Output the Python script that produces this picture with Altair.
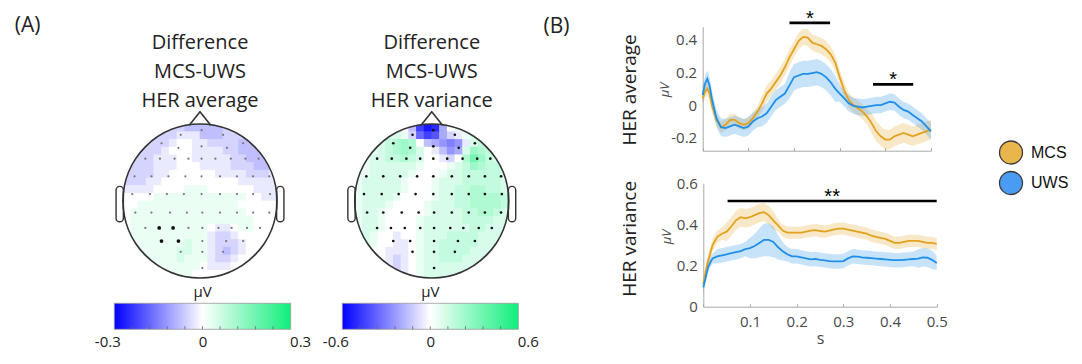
import altair as alt
import pandas as pd

# ======================= DATA =======================
time_s = [0.0, 0.005, 0.01, 0.015, 0.02, 0.03, 0.04, 0.05, 0.06, 0.07, 0.08, 0.09,
          0.10, 0.11, 0.12, 0.13, 0.14, 0.15, 0.16, 0.17, 0.18, 0.19, 0.20, 0.21,
          0.22, 0.23, 0.24, 0.25, 0.26, 0.27, 0.28, 0.29, 0.30, 0.31, 0.32, 0.33,
          0.34, 0.35, 0.36, 0.37, 0.38, 0.39, 0.40, 0.41, 0.42, 0.43, 0.44, 0.45,
          0.46, 0.47, 0.48, 0.49, 0.50]

avg_mcs = [0.04, 0.08, 0.10, 0.07, 0.00, -0.09, -0.135, -0.12, -0.09, -0.09, -0.11, -0.12,
           -0.11, -0.08, -0.04, 0.01, 0.07, 0.10, 0.14, 0.18, 0.23, 0.29, 0.34, 0.39,
           0.415, 0.41, 0.38, 0.37, 0.36, 0.34, 0.31, 0.26, 0.17, 0.09, 0.03, 0.00,
           -0.02, -0.04, -0.07, -0.11, -0.16, -0.19, -0.21, -0.21, -0.19, -0.18, -0.17, -0.18,
           -0.19, -0.18, -0.17, -0.16, -0.15]
avg_mcs_se = [0.04, 0.04, 0.04, 0.04, 0.04, 0.035, 0.035, 0.035, 0.035, 0.035, 0.035, 0.035,
              0.035, 0.035, 0.035, 0.05, 0.05, 0.05, 0.05, 0.05, 0.05, 0.05, 0.05, 0.05,
              0.05, 0.05, 0.05, 0.05, 0.05, 0.05, 0.05, 0.05, 0.05, 0.045, 0.045, 0.045,
              0.045, 0.045, 0.045, 0.06, 0.06, 0.06, 0.06, 0.06, 0.06, 0.06, 0.06, 0.06,
              0.06, 0.06, 0.06, 0.06, 0.06]
avg_uws = [0.06, 0.13, 0.16, 0.12, 0.04, -0.08, -0.135, -0.14, -0.13, -0.12, -0.13, -0.14,
           -0.13, -0.10, -0.08, -0.07, -0.05, -0.01, 0.03, 0.05, 0.07, 0.12, 0.17, 0.18,
           0.19, 0.19, 0.195, 0.20, 0.19, 0.17, 0.14, 0.10, 0.07, 0.04, 0.01, -0.005,
           -0.01, -0.015, -0.01, -0.005, 0.0, 0.0, 0.01, 0.02, 0.015, -0.01, -0.03, -0.04,
           -0.06, -0.08, -0.10, -0.13, -0.16]
avg_uws_se = [0.05, 0.05, 0.05, 0.05, 0.05, 0.055, 0.055, 0.055, 0.055, 0.055, 0.055, 0.055,
              0.055, 0.055, 0.055, 0.06, 0.06, 0.06, 0.06, 0.06, 0.06, 0.08, 0.08, 0.08,
              0.08, 0.08, 0.08, 0.08, 0.08, 0.08, 0.08, 0.08, 0.05, 0.05, 0.05, 0.05,
              0.05, 0.05, 0.05, 0.05, 0.05, 0.05, 0.05, 0.05, 0.05, 0.05, 0.05, 0.05,
              0.05, 0.05, 0.05, 0.05, 0.05]

var_mcs = [0.11, 0.17, 0.22, 0.26, 0.30, 0.34, 0.355, 0.365, 0.39, 0.42, 0.435, 0.43,
           0.435, 0.445, 0.455, 0.46, 0.445, 0.42, 0.395, 0.37, 0.36, 0.36, 0.36, 0.36,
           0.365, 0.37, 0.372, 0.368, 0.365, 0.37, 0.376, 0.38, 0.38, 0.375, 0.37, 0.365,
           0.36, 0.355, 0.345, 0.34, 0.335, 0.33, 0.32, 0.31, 0.31, 0.315, 0.32, 0.32,
           0.32, 0.315, 0.31, 0.31, 0.305]
var_mcs_se = [0.03, 0.03, 0.03, 0.03, 0.03, 0.03, 0.03, 0.045, 0.045, 0.045, 0.045, 0.045,
              0.045, 0.045, 0.045, 0.045, 0.045, 0.045, 0.03, 0.03, 0.03, 0.03, 0.03, 0.03,
              0.03, 0.03, 0.03, 0.03, 0.03, 0.03, 0.03, 0.03, 0.03, 0.03, 0.03, 0.03,
              0.03, 0.03, 0.03, 0.03, 0.03, 0.03, 0.03, 0.03, 0.03, 0.03, 0.03, 0.03,
              0.03, 0.03, 0.03, 0.03, 0.03]
var_uws = [0.095, 0.14, 0.19, 0.215, 0.235, 0.245, 0.25, 0.255, 0.26, 0.265, 0.27, 0.28,
           0.285, 0.295, 0.31, 0.325, 0.325, 0.315, 0.29, 0.27, 0.255, 0.245, 0.245, 0.24,
           0.235, 0.23, 0.232, 0.228, 0.225, 0.222, 0.22, 0.22, 0.222, 0.235, 0.245, 0.243,
           0.24, 0.238, 0.236, 0.234, 0.232, 0.23, 0.228, 0.226, 0.226, 0.228, 0.23, 0.232,
           0.234, 0.24, 0.238, 0.228, 0.212]
var_uws_se = [0.025, 0.025, 0.025, 0.025, 0.025, 0.035, 0.035, 0.035, 0.035, 0.035, 0.035, 0.035,
              0.05, 0.06, 0.07, 0.08, 0.08, 0.075, 0.06, 0.045, 0.035, 0.035, 0.035, 0.035,
              0.035, 0.035, 0.035, 0.035, 0.035, 0.035, 0.035, 0.035, 0.035, 0.035, 0.035, 0.035,
              0.035, 0.035, 0.035, 0.035, 0.035, 0.035, 0.035, 0.035, 0.035, 0.035, 0.035, 0.035,
              0.045, 0.045, 0.045, 0.045, 0.035]

groups = ["MCS", "UWS"]

sig_avg_start = [0.19, 0.373]
sig_avg_end = [0.279, 0.461]
sig_avg_level = [0.50, 0.126]
sig_avg_label = ["*", "*"]
sig_var_start = [0.052]
sig_var_end = [0.50]
sig_var_level = [0.514]
sig_var_label = ["**"]

avg_ticks = [-0.2, 0.0, 0.2, 0.4]
var_ticks = [0.0, 0.2, 0.4, 0.6]
time_labels = [0.1, 0.2, 0.3, 0.4, 0.5]
time_ticks = [0.0, 0.1, 0.2, 0.3, 0.4, 0.5]

topo_titles = [["Difference", "MCS-UWS", "HER average"],
               ["Difference", "MCS-UWS", "HER variance"]]
topo_limits = [0.3, 0.6]
cbar_ticks_avg = [-0.24, -0.18, -0.12, -0.06, 0.0, 0.06, 0.12, 0.18, 0.24]
cbar_ticks_var = [-0.48, -0.36, -0.24, -0.12, 0.0, 0.12, 0.24, 0.36, 0.48]

# electrode positions (head radius = 1), same montage for both maps
elec_x = [0.02,
          -0.25, 0.30,
          -0.50, -0.28, 0.02, 0.35, 0.56,
          -0.71, -0.52, -0.33, -0.15, 0.02, 0.20, 0.40, 0.59, 0.76,
          -0.85, -0.63, -0.41, -0.19, 0.02, 0.26, 0.48, 0.69, 0.90,
          -0.88, -0.65, -0.43, -0.21, 0.02, 0.26, 0.48, 0.69, 0.91,
          -0.84, -0.63, -0.39, -0.17, 0.03, 0.26, 0.48, 0.69, 0.90,
          -0.71, -0.53, -0.35, -0.15, 0.03, 0.24, 0.41, 0.61, 0.78,
          -0.50, -0.28, 0.03, 0.34, 0.56,
          -0.25, 0.03, 0.30,
          0.03]
elec_y = [0.92,
          0.86, 0.86,
          0.75, 0.69, 0.71, 0.69, 0.75,
          0.55, 0.55, 0.55, 0.55, 0.55, 0.55, 0.55, 0.55, 0.55,
          0.32, 0.32, 0.32, 0.32, 0.32, 0.32, 0.32, 0.32, 0.32,
          0.09, 0.09, 0.09, 0.09, 0.09, 0.09, 0.09, 0.09, 0.09,
          -0.15, -0.15, -0.15, -0.15, -0.15, -0.15, -0.15, -0.15, -0.15,
          -0.35, -0.35, -0.35, -0.35, -0.35, -0.35, -0.35, -0.35, -0.35,
          -0.52, -0.52, -0.52, -0.52, -0.52,
          -0.66, -0.66, -0.66,
          -0.87]
avg_marked = [45, 46, 53, 54]

# topography read on a 20 x 20 grid; letter M = 0, each letter step = one level
LEVELS = "ABCDEFGHIJKLMNOPQRSTUVWXY"
avg_step = 0.025
var_step = 0.05
avg_grid = [
    "MMMMMKKKJJJJJKKMMMMM",
    "MMMKKKKLLLJJJKKKJJMM",
    "MMKKKKLMMLLKKKKJJJMM",
    "MKKKKLMMMLLLLKKJJJJM",
    "MKKKLLLMMLLLLLKKJJJM",
    "KKKKLLLMMMLLLLKKKJJK",
    "KKKKLLMMMMMMLLLLKKKL",
    "KKKLLMMMMMMMMMMLLLLL",
    "LLLLMMMMNNNMMMMMMLLL",
    "MMMMNNNNNNNNNNNNMMLL",
    "MMNNNNNNNNNNNNNMMMMM",
    "MNNNNNNNNNNNNNNNMMMM",
    "MNNNNNNNNNNNNNNNNMMM",
    "MNNNNNNNNNNMLLMNNMMM",
    "MNNNNNNNNNNLKKLMMMMM",
    "MNNNNNNNONNLKKKLMMMM",
    "MNNNNNNOONNLKJKLMMMM",
    "MNNNNNNONNNLKKLMMMMM",
    "MMNNNNNNNNMLLLMMMMMM",
    "MMMMNNNNNMMMMMMMMMMM",
]
var_grid = [
    "MMMMMNMJDBCIMNNMMMMM",
    "MMMNOONKFDEIKLNONMMM",
    "MMNOPQRQMJIHGHLOPOMM",
    "MNNOPQRQOMLJHIORQPOM",
    "MNOOPPQPOMMLKMQTRPOM",
    "NNOOOOOONMMMNOPRQPPO",
    "NNOOOOONMMMNOOPPPPPO",
    "NOOOOONMMMNOOOPPPPPO",
    "NOOOOONMMMNOOPPQQPPO",
    "NOOOONMMMMNOOPPQQQQP",
    "NOOONMMMMNOOOPPQQQQP",
    "NOONMMMMMNOOOOPPQQPO",
    "NOONMMMMNOOOOOPPPPOO",
    "NOONMMMMNOOOOOOPPOOO",
    "NONMMLMMNOOOPPPPOOOO",
    "NONMMLLMNOOPPPPPOOOO",
    "NNMMLLLMNOOPPPPOOOOO",
    "NNMMLKLMNOOPPPOOOOOO",
    "MNMMLKLMNOOOOOOOOOOO",
    "MMMMMLLMNOOOOOMMMMMM",
]

# ======================= STYLE / LAYOUT =======================
W, H = 1066, 348
FONT = "Open Sans"
TXT = "#222222"
AXC = "#a8a8a8"
LAB = "#4a4a4a"
LINE_COLORS = ["#E2A21E", "#1F8FEA"]
LEGEND_FILL = ["#E8B64C", "#4A9CF3"]
BLUE, GREEN = "#0000ff", "#10ee7c"

MAP_SHIFT = 3.01          # distance between the two head centres (head radii)
TOPO_X = alt.Scale(domain=[-1, 1], range=[115, 269], zero=False, nice=False)
TOPO_Y = alt.Scale(domain=[-1, 1], range=[270, 116], zero=False, nice=False)
HEAD_D = 154              # head diameter in px (matches scales above)

# ---------- panel A: topographies ----------
cells = []
for m, (grid, step, lim) in enumerate([(avg_grid, avg_step, topo_limits[0]),
                                       (var_grid, var_step, topo_limits[1])]):
    for j, row in enumerate(grid):
        assert len(row) == 20
        for i, ch in enumerate(row):
            xc = -0.95 + 0.1 * i
            yc = 0.95 - 0.1 * j
            if xc * xc + yc * yc > 1.075 ** 2:
                continue
            val = (LEVELS.index(ch) - 12) * step
            cells.append({"x": xc - 0.054 + m * MAP_SHIFT, "x2": xc + 0.054 + m * MAP_SHIFT,
                          "y": yc - 0.054, "y2": yc + 0.054, "norm": val / lim})
cells_df = pd.DataFrame(cells)

heads_df = pd.DataFrame({"cx": [0.0, MAP_SHIFT], "cy": [0.0, 0.0]})
ears = []
for m in range(2):
    for side in (-1, 1):
        a, b = side * 0.995, side * 1.09
        ears.append({"x": min(a, b) + m * MAP_SHIFT, "x2": max(a, b) + m * MAP_SHIFT,
                     "y": -0.27, "y2": 0.19})
ears_df = pd.DataFrame(ears)
nose = []
for m in range(2):
    for k, (nx, ny) in enumerate([(-0.14, 0.985), (0.0, 1.16), (0.14, 0.985)]):
        nose.append({"x": nx + m * MAP_SHIFT, "y": ny, "map": m, "k": k})
nose_df = pd.DataFrame(nose)

elec = []
for idx, (ex, ey) in enumerate(zip(elec_x, elec_y)):
    elec.append({"x": ex, "y": ey, "style": "marked" if idx in avg_marked else "plain"})
    elec.append({"x": ex + MAP_SHIFT, "y": ey, "style": "var"})
elec_df = pd.DataFrame(elec)

title_rows = []
for m, lines in enumerate(topo_titles):
    for k, s in enumerate(lines):
        title_rows.append({"x": m * MAP_SHIFT, "y": 2.05 - 0.375 * k, "txt": s})
titles_df = pd.DataFrame(title_rows)
panel_df = pd.DataFrame({"x": [-2.24, 4.63], "y": [2.27, 2.26], "txt": ["(A)", "(B)"]})


def tx(f):
    return alt.X(f, scale=TOPO_X, axis=None)


def ty(f):
    return alt.Y(f, scale=TOPO_Y, axis=None)


topo_color = alt.Color("norm:Q", legend=None,
                       scale=alt.Scale(domain=[-1, 0, 1], range=[BLUE, "#ffffff", GREEN],
                                       interpolate="rgb"))
topo = alt.layer(
    alt.Chart(cells_df).mark_rect(strokeWidth=0).encode(
        x=tx("x:Q"), x2="x2:Q", y=ty("y:Q"), y2="y2:Q", color=topo_color),
    alt.Chart(heads_df).mark_point(shape="circle", filled=False, color="white", opacity=1,
                                   strokeWidth=16, size=(HEAD_D + 16) ** 2).encode(
        x=tx("cx:Q"), y=ty("cy:Q")),
    alt.Chart(ears_df).mark_rect(fill="white", stroke="#333333", strokeWidth=1.4,
                                 cornerRadius=6).encode(
        x=tx("x:Q"), x2="x2:Q", y=ty("y:Q"), y2="y2:Q"),
    alt.Chart(heads_df).mark_point(shape="circle", filled=False, color="#333333", opacity=1,
                                   strokeWidth=1.7, size=HEAD_D ** 2).encode(
        x=tx("cx:Q"), y=ty("cy:Q")),
    alt.Chart(nose_df).mark_line(color="#333333", strokeWidth=1.6).encode(
        x=tx("x:Q"), y=ty("y:Q"), detail="map:N", order="k:O"),
    alt.Chart(elec_df).transform_filter(alt.datum.style == "plain").mark_circle(
        size=5, color="#777777", opacity=1).encode(x=tx("x:Q"), y=ty("y:Q")),
    alt.Chart(elec_df).transform_filter(alt.datum.style == "marked").mark_circle(
        size=14, color="#111111", opacity=1).encode(x=tx("x:Q"), y=ty("y:Q")),
    alt.Chart(elec_df).transform_filter(alt.datum.style == "var").mark_circle(
        size=7, color="#111111", opacity=1).encode(x=tx("x:Q"), y=ty("y:Q")),
    alt.Chart(titles_df).mark_text(font=FONT, fontSize=20, color=TXT, baseline="middle").encode(
        x=tx("x:Q"), y=ty("y:Q"), text="txt:N"),
    alt.Chart(panel_df).mark_text(font=FONT, fontSize=21, color=TXT, baseline="middle").encode(
        x=tx("x:Q"), y=ty("y:Q"), text="txt:N"),
)

# ---------- panel A: colour bars ----------
GRAD = {"gradient": "linear", "x1": 0, "x2": 1, "y1": 0, "y2": 0,
        "stops": [{"offset": 0, "color": BLUE}, {"offset": 0.5, "color": "#ffffff"},
                  {"offset": 1, "color": GREEN}]}
LABEL_EXPR = "datum.value == 0 ? '0' : replace(format(datum.value, '.1f'), '\u2212', '-')"
CB_BOTTOM, CB_TOP = 321.3, 295.3
CB_Y = alt.Scale(domain=[0, 1], range=[CB_BOTTOM, CB_TOP], zero=False, nice=False)


def colorbar(lim, ticks, xrange):
    xs = alt.Scale(domain=[-lim, lim], range=xrange, zero=False, nice=False)
    ax = alt.Axis(orient="bottom", offset=CB_BOTTOM - H, values=[-lim, 0, lim],
                  labelExpr=LABEL_EXPR, ticks=False, tickSize=0, domain=False, grid=False,
                  labelPadding=5, labelFont=FONT, labelFontSize=15, labelColor=TXT,
                  labelFlush=True, labelFlushOffset=20, title=None)
    bar_df = pd.DataFrame({"lo": [-lim], "hi": [lim], "b": [0], "t": [1]})
    tick_df = pd.DataFrame({"v": ticks, "b": [0] * len(ticks), "t": [0.12] * len(ticks)})
    unit_df = pd.DataFrame({"v": [0], "h": [1.42], "txt": ["μV"]})
    return alt.layer(
        alt.Chart(bar_df).mark_rect(fill=GRAD, stroke="#9a9a9a", strokeWidth=0.8).encode(
            x=alt.X("lo:Q", scale=xs, axis=ax), x2="hi:Q",
            y=alt.Y("b:Q", scale=CB_Y, axis=None), y2="t:Q"),
        alt.Chart(tick_df).mark_rule(color="#666666", strokeWidth=0.8).encode(
            x=alt.X("v:Q", scale=xs, axis=ax), y=alt.Y("b:Q", scale=CB_Y, axis=None), y2="t:Q"),
        alt.Chart(unit_df).mark_text(font=FONT, fontSize=15, color=TXT).encode(
            x=alt.X("v:Q", scale=xs, axis=ax), y=alt.Y("h:Q", scale=CB_Y, axis=None),
            text="txt:N"),
    )


cb1 = colorbar(topo_limits[0], cbar_ticks_avg, [106.3, 282.7])
cb2 = colorbar(topo_limits[1], cbar_ticks_var, [334.3, 510.3])


# ---------- panel B: time courses ----------
def series_df(mcs, mcs_se, uws, uws_se):
    rows = []
    for g, mv, sv in (("MCS", mcs, mcs_se), ("UWS", uws, uws_se)):
        for t, v, e in zip(time_s, mv, sv):
            rows.append({"t": t, "v": v, "lo": v - e, "hi": v + e, "group": g})
    return pd.DataFrame(rows)


grp_color = alt.Color("group:N", legend=None,
                      scale=alt.Scale(domain=groups, range=LINE_COLORS))
YLAB_EXPR = "datum.value == 0 ? '0' : replace(format(datum.value, '.1f'), '\u2212', '-')"


def timecourse(df, xs, ys, xaxis, yaxis, sig, labels):
    s_start, s_end, s_level, s_label = sig
    sig_df = pd.DataFrame({"a": s_start, "b": s_end, "lvl": s_level, "txt": s_label,
                           "mid": [(a + b) / 2 for a, b in zip(s_start, s_end)]})
    X = lambda f: alt.X(f, scale=xs, axis=xaxis)
    Y = lambda f: alt.Y(f, scale=ys, axis=yaxis)
    lab_df = pd.DataFrame(labels)
    return alt.layer(
        alt.Chart(df).mark_area(opacity=0.25).encode(x=X("t:Q"), y=Y("lo:Q"), y2="hi:Q",
                                                      color=grp_color),
        alt.Chart(df).mark_line(strokeWidth=1.8).encode(x=X("t:Q"), y=Y("v:Q"), color=grp_color),
        alt.Chart(sig_df).mark_rule(color="black", strokeWidth=2.6).encode(
            x=X("a:Q"), x2="b:Q", y=Y("lvl:Q")),
        alt.Chart(sig_df).mark_text(font="Liberation Sans", fontSize=20, color="black",
                                    baseline="alphabetic", dy=2).encode(
            x=X("mid:Q"), y=Y("lvl:Q"), text="txt:N"),
        alt.Chart(lab_df).transform_filter(alt.datum.kind == "big").mark_text(
            font=FONT, fontSize=19, color=TXT, angle=270, baseline="middle").encode(
            x=X("t:Q"), y=Y("v:Q"), text="txt:N"),
        alt.Chart(lab_df).transform_filter(alt.datum.kind == "unit").mark_text(
            font=FONT, fontSize=13, fontStyle="italic", color=LAB, angle=270,
            baseline="middle").encode(x=X("t:Q"), y=Y("v:Q"), text="txt:N"),
    )


X_TOP = alt.Scale(domain=[0, 0.5], range=[694.7, 923.0], zero=False, nice=False)
Y_TOP = alt.Scale(domain=[-0.278, 0.477], range=[142.7, 18.7], zero=False, nice=False)
X_BOT = alt.Scale(domain=[0, 0.5], range=[695.3, 928.7], zero=False, nice=False)
Y_BOT = alt.Scale(domain=[0, 0.6], range=[298.7, 175.3], zero=False, nice=False)

xaxis_top = alt.Axis(orient="top", offset=-142.7, labels=False, ticks=True, tickSize=3,
                     tickColor=AXC, domainColor=AXC, values=time_ticks, grid=False, title=None)
yaxis_top = alt.Axis(orient="left", offset=-694.7, values=avg_ticks, labelExpr=YLAB_EXPR,
                     ticks=False, tickSize=0, labelPadding=6, domainColor=AXC, grid=False,
                     labelFont=FONT, labelFontSize=15, labelColor=LAB, labelFlush=False,
                     title=None)
xaxis_bot = alt.Axis(orient="bottom", offset=298.7 - H, values=time_labels, format=".1f",
                     ticks=False, tickSize=0, labelPadding=8, domainColor=AXC, grid=False,
                     labelFont=FONT, labelFontSize=15, labelColor=LAB, labelFlush=False,
                     title="s", titleFont=FONT, titleFontSize=16, titleFontWeight="normal",
                     titleColor=LAB, titlePadding=1)
yaxis_bot = alt.Axis(orient="left", offset=-695.3, values=var_ticks, labelExpr=YLAB_EXPR,
                     ticks=False, tickSize=0, labelPadding=6, domainColor=AXC, grid=False,
                     labelFont=FONT, labelFontSize=15, labelColor=LAB, labelFlush=False,
                     title=None)

top_plot = timecourse(
    series_df(avg_mcs, avg_mcs_se, avg_uws, avg_uws_se), X_TOP, Y_TOP, xaxis_top, yaxis_top,
    (sig_avg_start, sig_avg_end, sig_avg_level, sig_avg_label),
    {"t": [-0.159, -0.083], "v": [0.092, 0.092], "txt": ["HER average", "μV"],
     "kind": ["big", "unit"]})
bot_plot = timecourse(
    series_df(var_mcs, var_mcs_se, var_uws, var_uws_se), X_BOT, Y_BOT, xaxis_bot, yaxis_bot,
    (sig_var_start, sig_var_end, sig_var_level, sig_var_label),
    {"t": [-0.157, -0.078], "v": [0.33, 0.339], "txt": ["HER variance", "μV"],
     "kind": ["big", "unit"]})

bot_ticks = alt.Chart(pd.DataFrame({"t": time_ticks})).mark_tick(opacity=0).encode(
    x=alt.X("t:Q", scale=X_BOT,
            axis=alt.Axis(orient="top", offset=-298.7, labels=False, domain=False, ticks=True,
                          tickSize=3, tickColor=AXC, values=time_ticks, grid=False, title=None)))

# ---------- legend ----------
leg_df = pd.DataFrame({"group": groups})
leg_y = alt.Y("group:N", axis=None,
              scale=alt.Scale(type="point", domain=groups, range=[144.5, 175.0], padding=0))
legend = alt.layer(
    alt.Chart(leg_df).mark_point(shape="circle", filled=True, size=529, opacity=1,
                                 stroke="#3a3a3a", strokeWidth=1.3).encode(
        x=alt.value(1003.0), y=leg_y,
        fill=alt.Fill("group:N", legend=None,
                      scale=alt.Scale(domain=groups, range=LEGEND_FILL))),
    alt.Chart(leg_df).mark_text(font="Liberation Sans", fontSize=16, color="#111111",
                                align="left", baseline="middle").encode(
        x=alt.value(1023.0), y=leg_y, text="group:N"),
)

chart = alt.layer(topo, cb1, cb2, top_plot, bot_plot, bot_ticks, legend).resolve_scale(
    x="independent", y="independent", color="independent", fill="independent"
).properties(width=W, height=H, padding=0, autosize="none").configure_view(strokeWidth=0)

chart.save("out.html", embed_options={"renderer": "svg", "actions": False})
